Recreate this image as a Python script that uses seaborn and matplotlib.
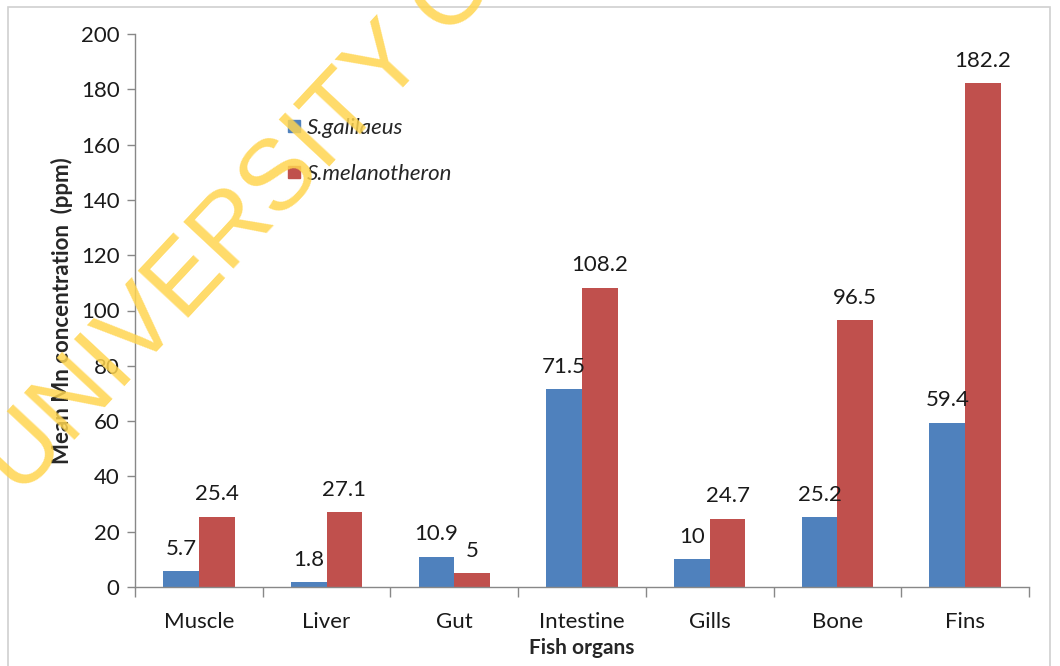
import matplotlib
matplotlib.use("Agg")
import matplotlib.pyplot as plt
import seaborn as sns
import pandas as pd
from matplotlib.patches import Rectangle
from matplotlib.lines import Line2D

organs = ["Muscle", "Liver", "Gut", "Intestine", "Gills", "Bone", "Fins"]
galilaeus = [5.7, 1.8, 10.9, 71.5, 10, 25.2, 59.4]
melanotheron = [25.4, 27.1, 5, 108.2, 24.7, 96.5, 182.2]
series_names = ["S.galilaeus", "S.melanotheron"]
y_ticks = [0, 20, 40, 60, 80, 100, 120, 140, 160, 180, 200]

df = pd.DataFrame({
    "organ": organs * 2,
    "value": galilaeus + melanotheron,
    "species": [series_names[0]] * len(organs) + [series_names[1]] * len(organs),
})

sns.set_theme(style="white")
plt.rcParams["font.family"] = ["Lato", "DejaVu Sans"]

fig = plt.figure(figsize=(10.6, 6.66), dpi=100)
ax = fig.add_axes([135 / 1060, 1 - 587 / 666, (1029 - 135) / 1060, (587 - 34) / 666])

colors = ["#4F81BD", "#C0504D"]
sns.barplot(data=df, x="organ", y="value", hue="species", order=organs,
            hue_order=series_names, palette=colors, width=0.56, ax=ax,
            saturation=1, legend=False, errorbar=None, linewidth=0)

def fmt(v):
    return f"{v:g}"

for cont in ax.containers:
    ax.bar_label(cont, labels=[fmt(b.get_height()) for b in cont], padding=9,
                 fontsize=16, color="#1a1a1a")

ax.set_ylim(0, 200)
ax.set_xlim(-0.5, len(organs) - 0.5)
ax.set_yticks(y_ticks)
ax.tick_params(axis="y", labelsize=16, length=6, width=1, color="#888888",
               left=True, labelcolor="#1a1a1a", pad=5)
ax.tick_params(axis="x", which="major", labelsize=16, length=0, pad=18,
               labelcolor="#1a1a1a")
ax.set_xticks([i - 0.5 for i in range(len(organs) + 1)], minor=True)
ax.tick_params(axis="x", which="minor", length=7, width=1, color="#888888",
               bottom=True)

for s in ["top", "right"]:
    ax.spines[s].set_visible(False)
for s in ["left", "bottom"]:
    ax.spines[s].set_color("#888888")
    ax.spines[s].set_linewidth(1)

ax.set_xlabel("Fish organs", fontsize=15, fontweight="bold", labelpad=4)
ax.set_ylabel("Mean Mn concentration  (ppm)", fontsize=16, fontweight="bold",
              labelpad=6)

handles = [Line2D([], [], marker="s", linestyle="", markersize=8,
                  markerfacecolor=c, markeredgecolor=c) for c in colors]
leg = ax.legend(handles, series_names, loc="upper left",
                bbox_to_anchor=(0.155, 0.865), frameon=False,
                prop={"style": "italic", "size": 16}, handletextpad=0.1,
                labelspacing=1.2, borderaxespad=0, handlelength=1.0)

# outer chart border
fig.patches.append(Rectangle((8 / 1060, -0.05), (1050 - 8) / 1060, 1.05 - 7 / 666,
                             transform=fig.transFigure, fill=False,
                             edgecolor="#d0d0d0", linewidth=1.2))

# watermark
fig.text(20 / 1060, 1 - 498 / 666, "UNIVERSITY OF", fontsize=72, color="#FFD54F",
         alpha=0.85, rotation=47, rotation_mode="anchor", ha="left",
         va="baseline", zorder=10, family=["Liberation Sans", "DejaVu Sans"])

fig.savefig("out.png", dpi=100)
